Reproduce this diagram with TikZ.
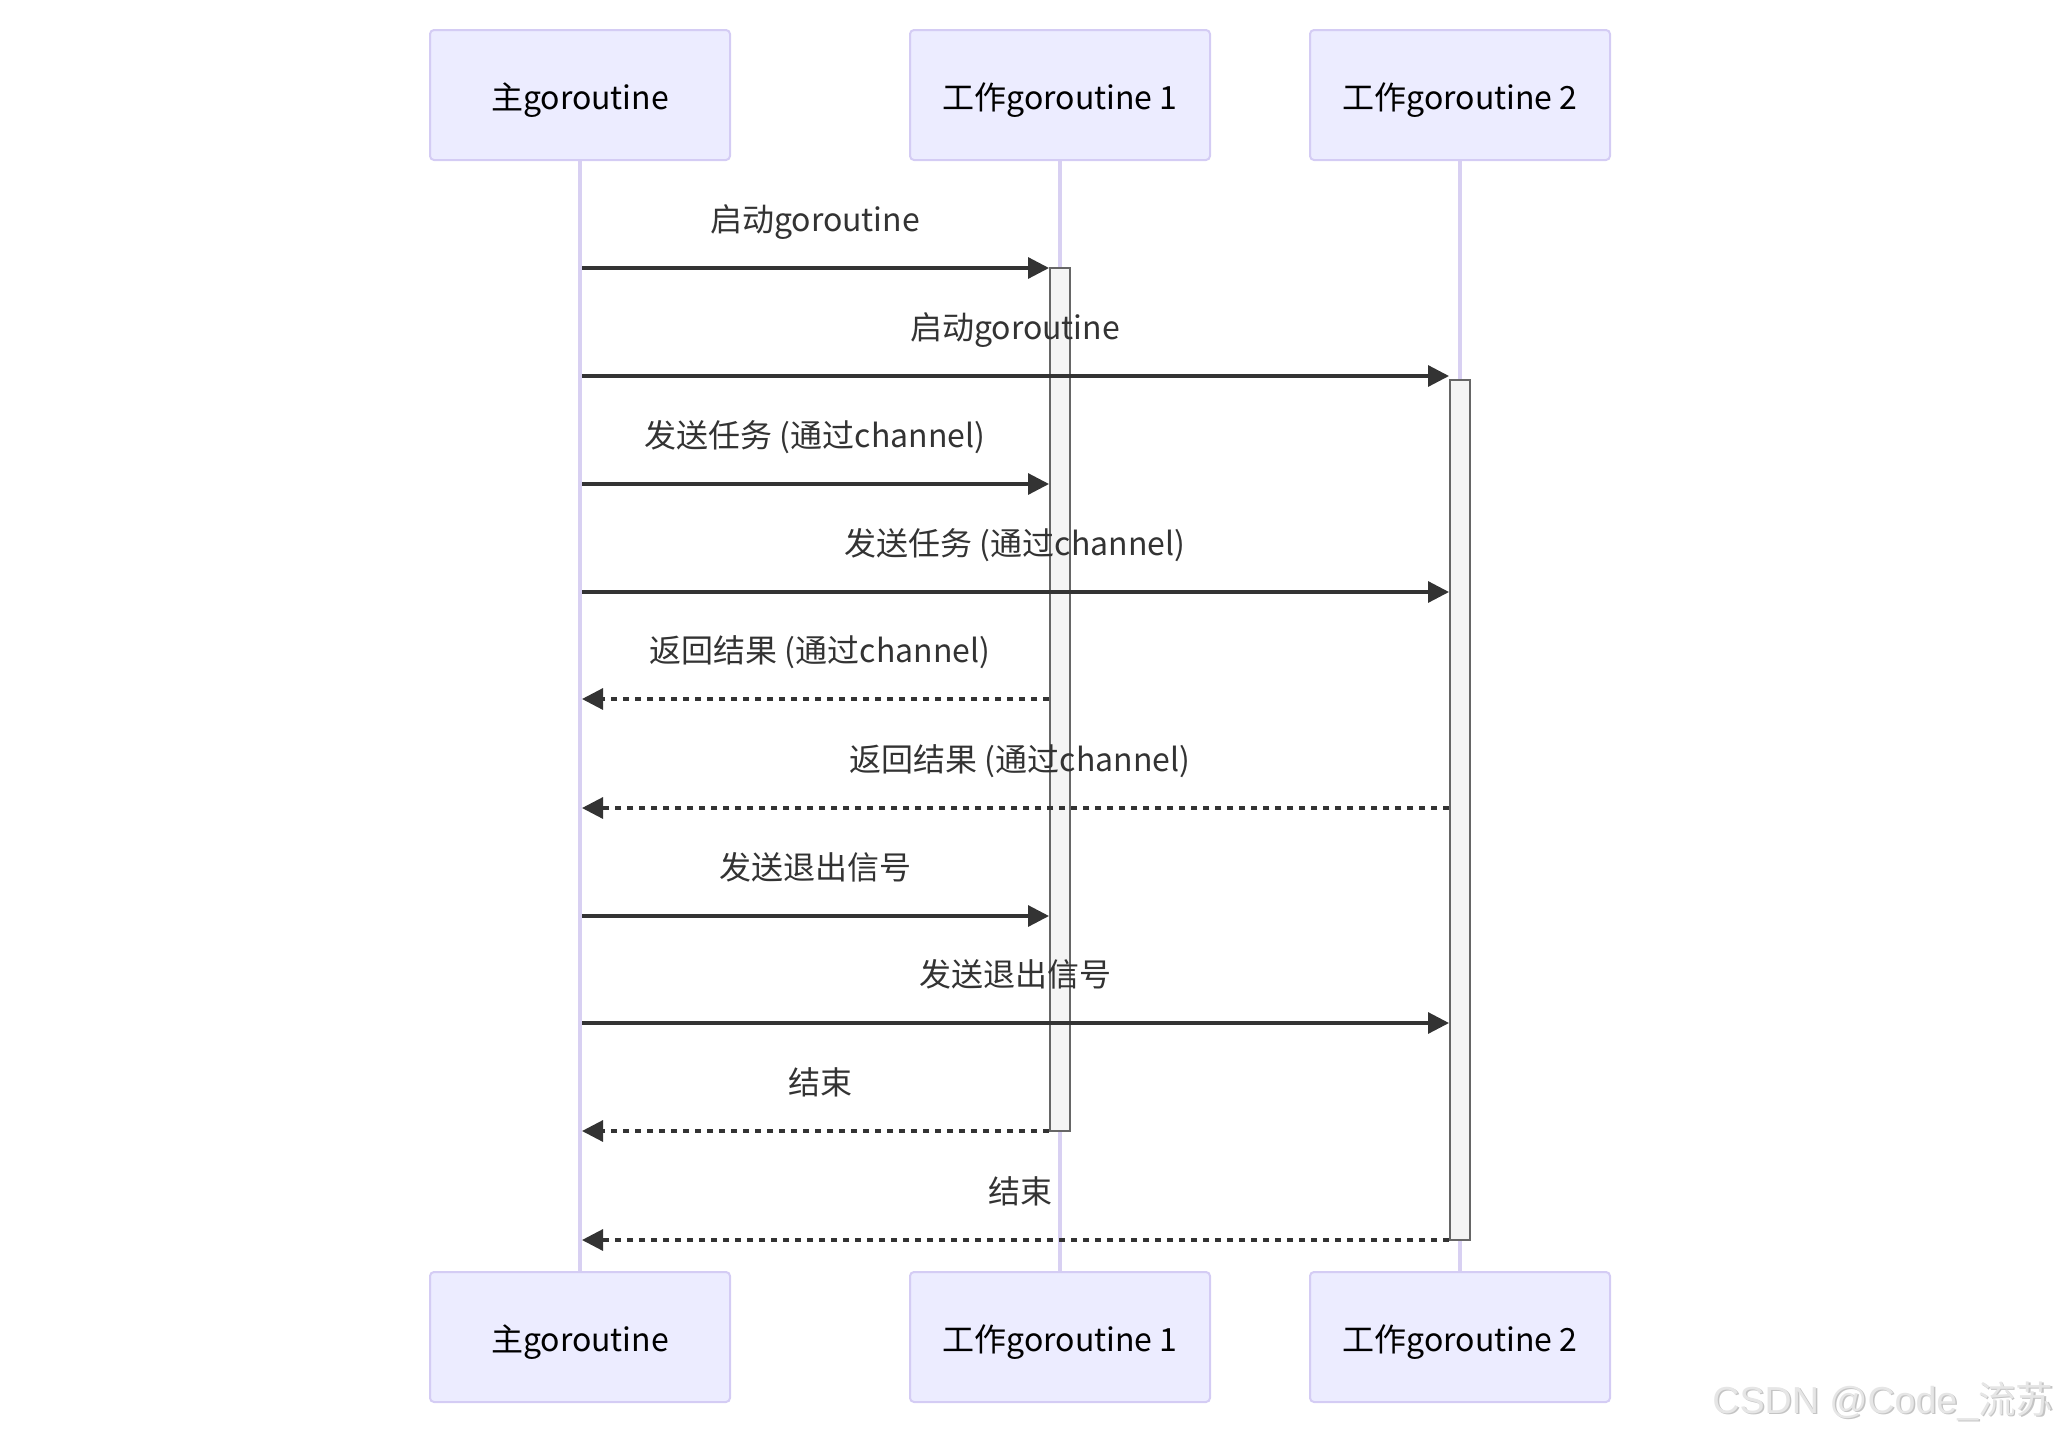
\documentclass[tikz,border=0pt]{standalone}
\usepackage{fontspec}
\setmainfont{Noto Sans CJK SC}
\newfontfamily\wmfont{Liberation Sans}
\newfontfamily\wmcjk{Noto Sans CJK SC}
\usetikzlibrary{arrows.meta}
\definecolor{actfill}{HTML}{ECECFF}
\definecolor{actborder}{HTML}{D4CCF4}
\definecolor{lifecol}{HTML}{D8D0F2}
\definecolor{msgcol}{HTML}{333333}
\definecolor{actvfill}{HTML}{F4F4F4}
\definecolor{actvborder}{HTML}{666666}
\definecolor{wmcol}{HTML}{E6E6E6}
\definecolor{wmshadow}{HTML}{C4C4C4}
\begin{document}
\begin{tikzpicture}[x=0.5pt,y=-0.5pt,
  actor/.style={draw=actborder, fill=actfill, line width=1pt, rounded corners=2pt,
    minimum width=150pt, minimum height=65pt, inner sep=0pt},
  atxt/.style={anchor=base, inner sep=0pt, font=\fontsize{16}{19}\selectfont, text=black},
  mtxt/.style={anchor=base, inner sep=0pt, font=\fontsize{16}{19}\selectfont, text=msgcol},
  life/.style={draw=lifecol, line width=2pt},
  actv/.style={draw=actvborder, fill=actvfill, line width=1pt, minimum width=10pt, inner sep=0pt},
  msg/.style={draw=msgcol, line width=1.6pt, -{Triangle[length=10.5pt,width=10.5pt]}},
  ret/.style={msg, dash pattern=on 3pt off 3pt},
  wm/.style={anchor=base west, inner sep=0pt, font=\fontsize{18.8}{22}\selectfont}
]
\useasboundingbox (0,0) rectangle (2057,1435);

% actors
\node[actor] (a1t) at (580,95) {};
\node[actor] (a2t) at (1060,95) {};
\node[actor] (a3t) at (1460,95) {};
\node[actor] (a1b) at (580,1337) {};
\node[actor] (a2b) at (1060,1337) {};
\node[actor] (a3b) at (1460,1337) {};

% lifelines
\draw[life] (a1t) -- (a1b);
\draw[life] (a2t) -- (a2b);
\draw[life] (a3t) -- (a3b);

\node[atxt] (a1tl) at (580,109) {主goroutine};
\node[atxt] (a2tl) at (1060,109) {工作goroutine 1};
\node[atxt] (a3tl) at (1460,109) {工作goroutine 2};
\node[atxt] (a1bl) at (580,1351) {主goroutine};
\node[atxt] (a2bl) at (1060,1351) {工作goroutine 1};
\node[atxt] (a3bl) at (1460,1351) {工作goroutine 2};

% activations
\node[actv, minimum height=431.5pt] (act1) at (1060,699.5) {};
\node[actv, minimum height=430pt] (act2) at (1460,810) {};

% message anchor points on main lifeline
\coordinate (m1) at (582,268);
\coordinate (m2) at (582,376);
\coordinate (m3) at (582,484);
\coordinate (m4) at (582,592);
\coordinate (m5) at (582,699);
\coordinate (m6) at (582,808);
\coordinate (m7) at (582,916);
\coordinate (m8) at (582,1023);
\coordinate (m9) at (582,1131);
\coordinate (m10) at (582,1240);

% messages
\draw[msg] (m1) -- (act1.west |- m1);
\draw[msg] (m2) -- (act2.west |- m2);
\draw[msg] (m3) -- (act1.west |- m3);
\draw[msg] (m4) -- (act2.west |- m4);
\draw[ret] (act1.west |- m5) -- (m5);
\draw[ret] (act2.west |- m6) -- (m6);
\draw[msg] (m7) -- (act1.west |- m7);
\draw[msg] (m8) -- (act2.west |- m8);
\draw[ret] (act1.west |- m9) -- (m9);
\draw[ret] (act2.west |- m10) -- (m10);

% labels
\node[mtxt] (l1) at (815,231) {启动goroutine};
\node[mtxt] (l2) at (1015,339) {启动goroutine};
\node[mtxt] (l3) at (815,447) {发送任务 (通过channel)};
\node[mtxt] (l4) at (1015,555) {发送任务 (通过channel)};
\node[mtxt] (l5) at (820,662) {返回结果 (通过channel)};
\node[mtxt] (l6) at (1020,771) {返回结果 (通过channel)};
\node[mtxt] (l7) at (815,879) {发送退出信号};
\node[mtxt] (l8) at (1015,986) {发送退出信号};
\node[mtxt] (l9) at (820,1094) {结束};
\node[mtxt] (l10) at (1020,1203) {结束};

% watermark
\node[wm, text=wmshadow] (wms) at (1713.5,1414.5) {\wmfont CSDN @Code\_\wmcjk 流苏};
\node[wm, text=wmcol] (wmt) at (1712,1413) {\wmfont CSDN @Code\_\wmcjk 流苏};
\end{tikzpicture}
\end{document}
